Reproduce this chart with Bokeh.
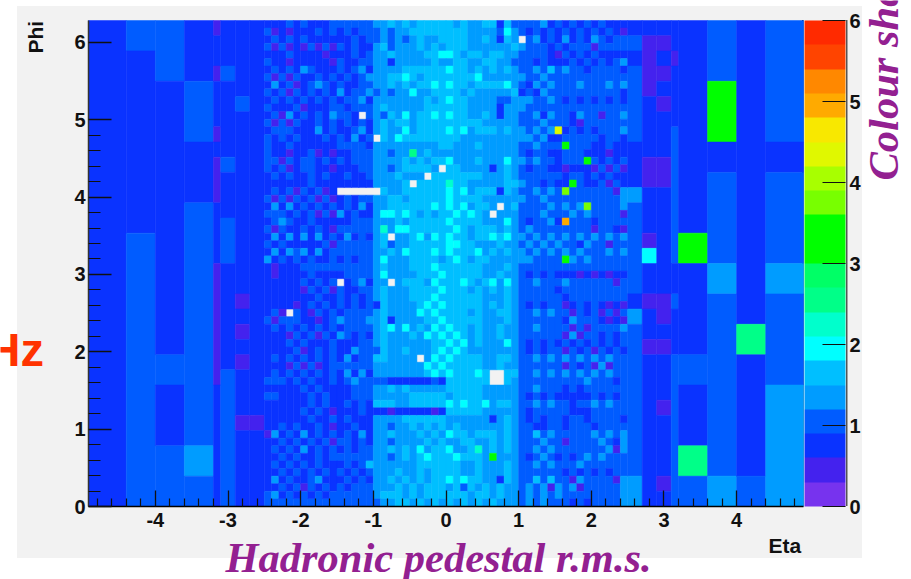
from math import pi
from bokeh.plotting import figure
from bokeh.embed import file_html
from bokeh.resources import INLINE
from bokeh.models import (ColumnDataSource, LinearColorMapper, ColorBar, FixedTicker, Label)

# Colour levels (20 steps from 0 to 6)
palette = ["#7733ee", "#4422ee", "#0a33ff", "#005cff", "#009cff", "#00bfff", "#00ffff", "#00ffcc",
           "#00ff88", "#00ff66", "#00ff00", "#00ff00", "#78ff00", "#a8ff00", "#e0f800", "#f8e800",
           "#ffaa00", "#ff8800", "#ff4400", "#ff2a00"]
zmax = 6.0

# eta edges
left_edges = [-4.92, -4.4, -4.0, -3.6, -3.2, -3.1, -2.9, -2.7, -2.5]
fine_edges = [round(-2.5 + 0.1 * i, 1) for i in range(51)]
right_edges = [2.5, 2.7, 2.9, 3.1, 3.2, 3.6, 4.0, 4.4, 4.92]

# coarse columns: 64 rows from top (phi max) to bottom
left_cols = [
    "2" * 64,
    "3" * 4 + "2" * 24 + "3" * 36,
    "3" * 8 + "2" * 36 + "3" * 4 + "2" * 8 + "3" * 8,
    "2" * 8 + "3" * 8 + "2" * 8 + "3" * 32 + "4" * 4 + "3" * 4,
    "1" * 2 + "2" * 4 + "1" * 2 + "2" * 6 + "1" * 2 + "2" * 2 + "1" * 6 + "2" * 8 + "1" * 16 + "2" * 16,
    "2" * 6 + "3" * 2 + "2" * 10 + "3" * 2 + "2" * 6 + "3" * 6 + "2" * 14 + "3" * 18,
    "2" * 10 + "3" * 2 + "2" * 24 + "1" * 2 + "2" * 2 + "1" * 2 + "2" * 2 + "1" * 2 + "2" * 6 + "1" * 2 + "2" * 10,
    "2" * 52 + "1" * 2 + "2" * 10,
]
right_cols = [
    "2" * 2 + "3" * 2 + "2" * 2 + "3" * 10 + "2" * 6 + "4" * 2 + "3" * 12 + "2" * 2 + "4" * 2 + "3" * 20 + "4" * 4,
    "2" * 2 + "1" * 8 + "2" * 8 + "1" * 4 + "2" * 6 + "1" * 2 + "6" * 2 + "2" * 4 + "1" * 2 + "2" * 4 + "1" * 2 + "2" * 20,
    "2" * 2 + "1" * 2 + "2" * 2 + "1" * 2 + "2" * 2 + "1" * 2 + "2" * 6 + "1" * 4 + "2" * 14 + "1" * 4 + "2" * 2 + "1" * 2 + "2" * 6 + "1" * 2 + "2" * 8 + "1" * 2 + "2" * 2,
    "2" * 4 + "1" * 2 + "2" * 8 + "3" * 18 + "2" * 4 + "3" * 2 + "2" * 6 + "3" * 20,
    "2" * 28 + "a" * 4 + "2" * 12 + "3" * 4 + "2" * 8 + "8" * 4 + "3" * 4,
    "3" * 8 + "a" * 8 + "2" * 4 + "3" * 12 + "4" * 4 + "3" * 24 + "4" * 4,
    "2" * 40 + "8" * 4 + "2" * 16 + "3" * 4,
    "3" * 16 + "2" * 4 + "3" * 12 + "4" * 4 + "3" * 12 + "4" * 16,
]

# fine columns: 50 values per row, top row first (x = empty cell)
fine_rows = [
    "2223232223 3333344545 4555554544 5525333342 3232323222",
    "3121222323 2323334344 5555555544 4436432323 2323232321",
    "2323232222 2232334343 4544555544 54254x3423 2423243233",
    "3131213131 3232245344 4545455544 4444543332 3233313333",
    "2223222212 2232344544 4455665455 4554433332 1323232222",
    "3221222221 3223344244 4445445544 5544333232 2232323234",
    "2323243222 3234244445 5555565545 4545433435 3433233332",
    "3131322323 2323444556 5455555556 4444443343 3333333333",
    "2423123432 3223344545 4556565545 5556432434 3334333434",
    "3231323232 4233434344 6445555454 4444523243 3333333332",
    "2323232323 2334244444 4454565544 4433444334 3232323232",
    "3222312223 3233345444 4455555544 4424443333 3333333333",
    "2314232324 332x343546 4556565544 5424433424 3324331334",
    "3131322323 2323245455 4555555555 4444433343 3321333333",
    "2333222423 2234245446 4555565645 5545443434 e232323334",
    "3232322232 32423x5465 5555555444 4444444342 2333332332",
    "3223222222 3333244444 4444554445 4444433433 3a33322322",
    "3221223121 2233344344 8454444444 4444432332 2333222122",
    "3313233232 3233344445 4545564445 4446443433 2333a32323",
    "3231233221 2223344345 5554x55444 4245432332 2122213131",
    "2323223232 2322344454 44x5555555 4445433333 3233232322",
    "2222223222 2222244445 x555575544 4445543323 22a3223132",
    "2323132312 xxxxxx5445 5555565645 5525433434 3c33333314",
    "3131323131 2323344554 5555565555 4444443343 3333333334",
    "2424232323 2324244555 5556565645 54x4533334 3434c33334",
    "3332323131 4232246656 5454556565 4x44433343 3343433331",
    "2343223222 2233344454 5555565555 4446432334 2g33323333",
    "3132232321 3333347466 5555556545 5545434333 3333313321",
    "2424242423 2423245x44 5646565545 5656443434 3434343434",
    "3232222231 3333345344 5555566554 4454434343 4332433133",
    "2424342423 3333344546 5556565556 4545443434 3434333434",
    "4232323223 2323346444 5555456545 5444444333 3a43433333",
    "2122233333 3333345444 5556555555 4445433333 3333333333",
    "2122223222 2333346444 4555655555 4454432323 2221212122",
    "2222232323 x234244x45 5546555654 5646433433 3433333313",
    "2222213231 3223345444 5555655545 4545433333 2333333333",
    "2222222322 3232345444 5556555555 4445433333 3233333333",
    "2222123232 3232325444 4565655555 4545432323 3123232121",
    "231x321323 2333345444 4656555545 4455433434 3313231313",
    "3133322123 4333445244 4455655555 4445433333 3243332121",
    "2323232323 2333345646 4546565545 4454433433 3313133334",
    "2221323132 4323245444 5465656545 4454433333 3141332323",
    "2223232223 2223345444 4445565645 4446432323 2323232323",
    "2222312323 2243335445 4445656544 4444432323 3132313232",
    "2323232323 2423355444 4x46565555 4455433434 3434343433",
    "2221313123 3333344444 4465655555 4454433333 3132314133",
    "2323232323 2424244444 4456565556 5xx5533434 3434343433",
    "3332323223 2343333222 2223255555 5xx5433333 3333433323",
    "2222232322 2233344545 4444455555 4444433433 3232333333",
    "3322223232 2233344444 5555545555 4444432323 2222232323",
    "2222223232 2323255544 5555565655 6455433434 3323343433",
    "2222232321 2223222122 2221255555 4444432333 3322233333",
    "2222223223 2322244445 5555544444 4245432323 3233233332",
    "2232322321 2232244344 5454545444 4445433223 3233323333",
    "1423242323 2324244544 4545465545 5545433534 3333343434",
    "2232323231 3323244344 4454544554 4545433343 3133334324",
    "2323242323 2323344545 4645564457 4545433434 3333333414",
    "2232322323 3333344345 4565556555 4a44432343 2323434333",
    "2323232322 2323544444 4555555445 4445433434 3334333333",
    "2232323232 3232344454 4545555445 4445433333 3232323233",
    "2423223422 2323244545 4545565655 4425433535 3314333314",
    "2232313232 3233344454 5455545354 5454434341 4341333334",
    "3423232323 3333345554 5455555545 5454434343 4333333334",
    "3333333333 3333334455 4545454545 4544434343 3323233334",
]

xticks = [-4, -3, -2, -1, 0, 1, 2, 3, 4]
yticks = [0, 1, 2, 3, 4, 5, 6]
zticks = [0, 1, 2, 3, 4, 5, 6]
x_title, y_title = "Eta", "Phi"
main_title = "Hadronic pedestal r.m.s."
side_title = "Colour shapes"
unit_label = "Hz"

NROW = 64
digits = "0123456789abcdefghij"
phi_step = 2 * pi / NROW


def level_value(ch):
    return (digits.index(ch) + 0.5) * zmax / 20


lefts, rights, tops, bottoms, vals = [], [], [], [], []


def add_column(x0, x1, col):
    # merge equal neighbours in a column so no seams appear between them
    r = 0
    while r < NROW:
        ch = col[r]
        e = r
        while e + 1 < NROW and col[e + 1] == ch:
            e += 1
        if ch != "x":
            lefts.append(x0)
            rights.append(x1)
            tops.append((NROW - r) * phi_step)
            bottoms.append((NROW - e - 1) * phi_step)
            vals.append(level_value(ch))
        r = e + 1


clean_rows = [row.replace(" ", "") for row in fine_rows]
for j, col in enumerate(left_cols):
    add_column(left_edges[j], left_edges[j + 1], col)
for j in range(50):
    add_column(fine_edges[j], fine_edges[j + 1], "".join(row[j] for row in clean_rows))
for j, col in enumerate(right_cols):
    add_column(right_edges[j], right_edges[j + 1], col)

mapper = LinearColorMapper(palette=palette, low=0, high=zmax)
source = ColumnDataSource(dict(left=lefts, right=rights, top=tops, bottom=bottoms, value=vals))

GRAY = "#f2f2f2"
FONT = "Liberation Sans"
SERIF = "Liberation Serif"
PURPLE = "#932091"
W, H = 911, 579
# pixel position of the plot box inside the page
BOX_L, BOX_R, BOX_T, BOX_B = 88, 803, 20, 506
XMIN, XMAX = -4.92, 4.92
YMIN, YMAX = 0, 2 * pi
xs = (XMAX - XMIN) / (BOX_R - BOX_L)
ys = (YMAX - YMIN) / (BOX_B - BOX_T)

# page decoration behind the transparent canvas
layers = ["linear-gradient(#555,#555) 845.5px 20px / 1.5px 486px no-repeat",
          "linear-gradient(#111,#111) 801.5px 20px / 1.5px 486px no-repeat",
          "linear-gradient(#fff,#fff) 803px 20px / 1.5px 486px no-repeat",
          f"linear-gradient({GRAY},{GRAY}) 17px 6px / 845px 552px no-repeat"]

# the frame fills the page, so texts outside the plot box are not clipped
p = figure(width=W, height=H,
           x_range=(XMIN - BOX_L * xs, XMAX + (W - BOX_R) * xs),
           y_range=(YMIN - (H - BOX_B) * ys, YMAX + BOX_T * ys),
           toolbar_location=None, output_backend="svg",
           min_border_left=0, min_border_right=0, min_border_top=0, min_border_bottom=0,
           styles={"background": ", ".join(layers)})
p.background_fill_color = None
p.border_fill_color = None
p.outline_line_color = None
p.grid.visible = False

p.quad(left="left", right="right", top="top", bottom="bottom", source=source,
       fill_color={"field": "value", "transform": mapper},
       line_color={"field": "value", "transform": mapper}, line_width=0.5)

for ax, ticks, t_in, m_in, col, standoff, loc, bounds in (
        (p.xaxis[0], xticks, 16, 8, "#000000", 6, YMIN, (XMIN, XMAX)),
        (p.yaxis[0], yticks, 23, 12, "#333333", 3, XMIN, (YMIN, YMAX))):
    minor = [round(-5 + 0.2 * i, 1) for i in range(51) if round(-5 + 0.2 * i, 1) not in ticks]
    minor = [m for m in minor if bounds[0] <= m <= bounds[1]]
    ax.ticker = FixedTicker(ticks=ticks, minor_ticks=minor)
    ax.fixed_location = loc
    ax.bounds = bounds
    ax.major_tick_in = t_in
    ax.major_tick_out = 0
    ax.minor_tick_in = m_in
    ax.minor_tick_out = 0
    ax.axis_line_color = col
    ax.axis_line_width = 1.5
    ax.major_tick_line_color = "#111111"
    ax.minor_tick_line_color = "#111111"
    ax.major_tick_line_width = 1.3
    ax.minor_tick_line_width = 1.2
    ax.major_label_text_font = FONT
    ax.major_label_text_font_style = "bold"
    ax.major_label_text_font_size = "20px"
    ax.major_label_text_color = "#111111"
    ax.major_label_standoff = standoff
p.xaxis[0].major_label_overrides = {t: str(t) for t in xticks}
p.yaxis[0].major_label_overrides = {t: str(t) for t in yticks}


def add_label(text, px, py, font, size, color, style="bold", angle=0.0):
    p.add_layout(Label(x=px, y=H - py, x_units="screen", y_units="screen", text=text, angle=angle,
                       text_font=font, text_font_size=size, text_font_style=style,
                       text_color=color, text_baseline="alphabetic", text_align="left"))


add_label(main_title, 225, 557, SERIF, "42.5px", PURPLE, "bold italic")
add_label(side_title, 883, 180, SERIF, "42.5px", PURPLE, "bold italic", pi / 2)
add_label(unit_label, -14, 349, FONT, "47px", "#ff3300")
add_label(x_title, 768, 545, FONT, "21px", "#111111")
add_label(y_title, 35, 53, FONT, "21px", "#111111", "bold", pi / 2)

cb = ColorBar(color_mapper=mapper, ticker=FixedTicker(ticks=zticks), location=(804, H - BOX_B),
              width=41, height=486, padding=0, margin=0,
              major_tick_in=23, major_tick_out=0, major_tick_line_color="#111111",
              major_tick_line_width=1.2, bar_line_color=None, minor_tick_line_color=None,
              major_label_text_font=FONT, major_label_text_font_style="bold",
              major_label_text_font_size="20px", major_label_text_color="#111111",
              label_standoff=4, background_fill_color=None, border_line_color=None,
              major_label_overrides={t: str(t) for t in zticks})
p.add_layout(cb, "center")

open("out.html", "w").write(file_html(p, INLINE))
